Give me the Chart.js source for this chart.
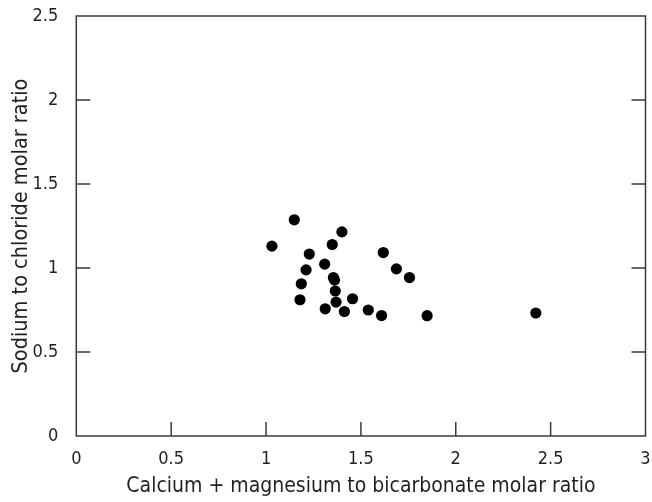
<!DOCTYPE html>
<html>
<head>
<meta charset="utf-8">
<script src="https://cdn.jsdelivr.net/npm/chart.js@4/dist/chart.umd.min.js"></script>
<style>
  html, body { margin: 0; padding: 0; background: #ffffff; }
  #c { display: block; }
</style>
</head>
<body>
<canvas id="c" width="652" height="502"></canvas>
<script>
// Molar ratios for each sampled well
const caMgToHco3 = [1.149, 1.031, 1.400, 1.349, 1.228, 1.618, 1.309, 1.211, 1.687, 1.756, 1.355, 1.361,
                    1.186, 1.365, 1.369, 1.179, 1.456, 1.312, 1.413, 1.539, 1.609, 1.849, 2.422];
const naToCl     = [1.287, 1.130, 1.215, 1.140, 1.083, 1.092, 1.023, 0.989, 0.995, 0.943, 0.943, 0.928,
                    0.906, 0.863, 0.797, 0.811, 0.817, 0.757, 0.741, 0.750, 0.717, 0.716, 0.732];

const xTickValues = [0, 0.5, 1, 1.5, 2, 2.5, 3];
const yTickValues = [0, 0.5, 1, 1.5, 2, 2.5];

const xTitle = 'Calcium + magnesium to bicarbonate molar ratio';
const yTitle = 'Sodium to chloride molar ratio';

const FONT = '"DejaVu Sans Condensed", "Liberation Sans Narrow", sans-serif';
const INK = '#231f20';
const FRAME = '#3a3a3a';

const points = caMgToHco3.map((x, i) => ({ x, y: naToCl[i] }));

// Frame around the plot with short inward tick marks on the left, right and bottom
const framePlugin = {
  id: 'frameTicks',
  afterDatasetsDraw(chart) {
    const { ctx, chartArea: a, scales } = chart;
    const len = 14;
    ctx.save();
    ctx.strokeStyle = FRAME;
    ctx.lineWidth = 1.5;
    ctx.strokeRect(a.left, a.top, a.right - a.left, a.bottom - a.top);
    ctx.beginPath();
    xTickValues.forEach(v => {
      if (v === xTickValues[0] || v === xTickValues[xTickValues.length - 1]) return;
      const px = scales.x.getPixelForValue(v);
      ctx.moveTo(px, a.bottom);
      ctx.lineTo(px, a.bottom - len);
    });
    yTickValues.forEach(v => {
      if (v === yTickValues[0] || v === yTickValues[yTickValues.length - 1]) return;
      const py = scales.y.getPixelForValue(v);
      ctx.moveTo(a.left, py);
      ctx.lineTo(a.left + len, py);
      ctx.moveTo(a.right, py);
      ctx.lineTo(a.right - len, py);
    });
    ctx.stroke();
    ctx.restore();
  }
};

new Chart(document.getElementById('c'), {
  type: 'scatter',
  data: {
    datasets: [{
      data: points,
      backgroundColor: '#000000',
      borderColor: '#000000',
      borderWidth: 0,
      pointRadius: 5.6,
      pointHoverRadius: 5.6
    }]
  },
  options: {
    responsive: false,
    animation: false,
    events: [],
    layout: { padding: { top: 16, right: 6.5, left: 0, bottom: 0 } },
    plugins: {
      legend: { display: false },
      tooltip: { enabled: false }
    },
    scales: {
      x: {
        type: 'linear',
        min: 0,
        max: 3,
        afterBuildTicks: s => { s.ticks = xTickValues.map(v => ({ value: v })); },
        afterFit: s => { s.height = 66; s.paddingLeft = 0; s.paddingRight = 0; },
        grid: { display: false },
        border: { display: false },
        ticks: {
          color: INK,
          font: { family: FONT, size: 18 },
          padding: 5,
          maxRotation: 0,
          callback: v => String(v)
        },
        title: {
          display: true,
          text: xTitle,
          color: INK,
          font: { family: FONT, size: 21 },
          padding: { top: 4, bottom: 3 }
        }
      },
      y: {
        type: 'linear',
        min: 0,
        max: 2.5,
        afterBuildTicks: s => { s.ticks = yTickValues.map(v => ({ value: v })); },
        afterFit: s => { s.width = 76.3; s.paddingTop = 0; s.paddingBottom = 0; },
        grid: { display: false },
        border: { display: false },
        ticks: {
          color: INK,
          font: { family: FONT, size: 18 },
          padding: 10,
          callback: v => String(v)
        },
        title: {
          display: true,
          text: yTitle,
          color: INK,
          font: { family: FONT, size: 21.5 },
          padding: { top: 9, bottom: 4 }
        }
      }
    }
  },
  plugins: [framePlugin]
});
</script>
</body>
</html>
